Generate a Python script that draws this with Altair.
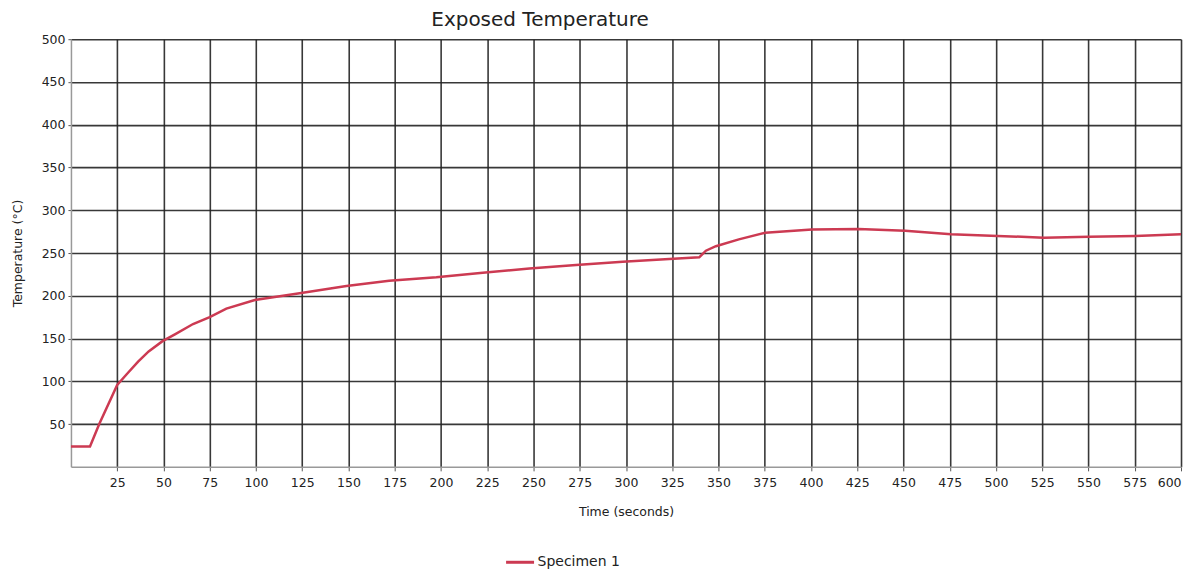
import altair as alt
import pandas as pd

time_s = [0, 10.3, 15.3, 25, 30, 36.3, 42, 49.5, 56.2, 66, 75, 84, 99.4, 123.6, 148.9,
          172, 197.5, 222.6, 247.8, 273, 298.2, 323.4, 339.6, 343.2, 348.6, 361, 375.3,
          400.5, 425.7, 450.9, 475.7, 500.9, 525.8, 550.2, 575.4, 600]
temp_c = [23.7, 23.7, 50, 95.8, 108, 123, 135, 147, 155, 167, 175, 185, 195, 203, 211.4,
          217.7, 221.6, 227, 232, 236, 239.8, 243, 245, 252.7, 258, 266, 273.7,
          277.6, 278, 276, 272, 270, 268, 269, 270, 272]
series = ["Specimen 1"] * len(time_s)

x_ticks = list(range(25, 601, 25))
y_ticks = list(range(50, 501, 50))

df = pd.DataFrame({"Time": time_s, "Temp": temp_c, "Series": series})

FONT = "DejaVu Sans"

chart = alt.Chart(df).mark_line(strokeWidth=2.5).encode(
    x=alt.X("Time:Q",
            scale=alt.Scale(domain=[0, 600], nice=False, zero=False),
            axis=alt.Axis(values=x_ticks, title="Time (seconds)", labelPadding=6,
                          titlePadding=16, tickSize=4)),
    y=alt.Y("Temp:Q",
            scale=alt.Scale(domain=[0, 500], nice=False),
            axis=alt.Axis(values=y_ticks, title="Temperature (°C)", labelPadding=3,
                          titlePadding=17, tickSize=3)),
    color=alt.Color("Series:N",
                    scale=alt.Scale(range=["#cc3a52"]),
                    legend=alt.Legend(title=None, orient="none", legendX=434, legendY=508,
                                      symbolType="stroke", symbolSize=784,
                                      symbolStrokeWidth=3, labelFontSize=14,
                                      labelFont=FONT, labelColor="#222",
                                      labelOffset=2)),
).properties(
    width=1111, height=428,
    title=alt.TitleParams("Exposed Temperature", fontSize=20, font=FONT,
                          fontWeight="normal", color="#222", dx=-86, offset=3),
    autosize=alt.AutoSizeParams(type="none"),
    padding={"left": 63, "top": 31, "right": 15, "bottom": 110},
).configure_view(
    stroke=None
).configure_axis(
    labelFont=FONT, labelFontSize=12.5, labelColor="#222",
    titleFont=FONT, titleFontSize=12.5, titleFontWeight="normal", titleColor="#222",
    gridColor="#222", gridWidth=1.6, gridOpacity=0.9,
    domainColor="#999", domainWidth=1.5, tickColor="#555",
)

chart.save("out.html", embed_options={"renderer": "svg", "actions": False})
